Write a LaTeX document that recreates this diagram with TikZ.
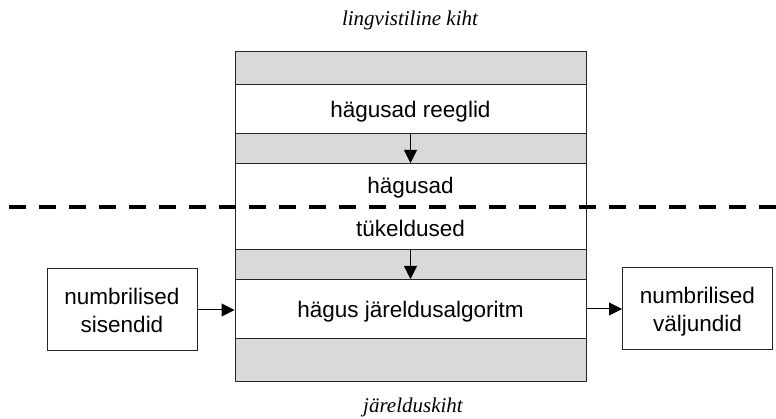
\documentclass[tikz,border=0pt]{standalone}
\usepackage{fontspec}
\setmainfont{Liberation Sans}
\newfontfamily\layerfont{Liberation Serif}
\usepackage{tikz}
\usetikzlibrary{arrows.meta}

\tikzset{
    band/.style={draw=black!85,line width=1pt,fill=black!15,rectangle,minimum width=351pt,inner sep=0pt,anchor=north},
    block/.style={band,fill=white,font=\fontsize{22.5}{27}\selectfont,align=center,text depth=0pt},
    iobox/.style={draw=black!85,line width=1pt,rectangle,minimum width=150pt,minimum height=82pt,inner sep=0pt,font=\fontsize{22.5}{28}\selectfont,align=center,text depth=0pt},
    layer/.style={font=\layerfont\itshape\fontsize{21}{25}\selectfont},
    flow/.style={-{Triangle[length=13pt,width=13pt]},line width=1pt}
}

\begin{document}
\begin{tikzpicture}[x=1pt,y=-1pt]
        \useasboundingbox (0,0) rectangle (776,419);
        \node[layer] (ling)   at (410,20) {lingvistiline kiht};
        \node[band,minimum height=33pt] (g1)   at (410.5,51) {};
        \node[block,minimum height=49pt] (rules)   at (410.5,84) {hägusad reeglid};
        \node[band,minimum height=30pt] (g2)   at (410.5,133) {};
        \node[block,minimum height=86pt] (fuzz)   at (410.5,163) {hägusad\\[16pt]tükeldused};
        \node[band,minimum height=30pt] (g3)   at (410.5,249) {};
        \node[block,minimum height=59pt] (algo)   at (410.5,279) {hägus järeldusalgoritm};
        \node[band,minimum height=43pt] (g4)   at (410.5,338) {};
        \node[layer] (jarel)   at (413,407) {järelduskiht};
        \node[iobox] (inp)   at (122,310) {numbrilised\\sisendid};
        \node[iobox] (out)   at (697.5,309) {numbrilised\\väljundid};
        \coordinate (cutL) at (9,207);
        \coordinate (cutR) at (776,207);
        \draw[flow] (rules) -- (fuzz);
        \draw[flow] (fuzz) -- (algo);
        \draw[flow] (inp) -- (inp -| algo.west);
        \draw[flow] (algo.east |- out) -- (out);
        \draw[line width=4pt,dash pattern=on 17pt off 13pt] (cutL) -- (cutR);
    \end{tikzpicture}
\end{document}
